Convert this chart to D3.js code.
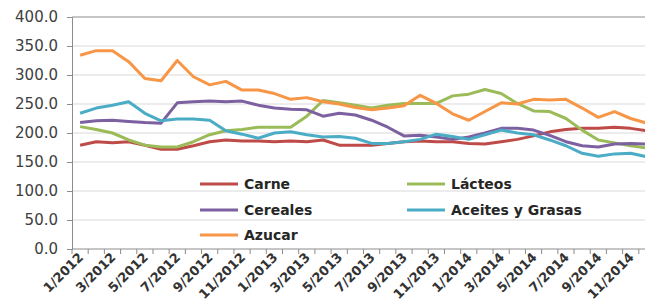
<!DOCTYPE html>
<html>
<head>
<meta charset="utf-8">
<script src="https://cdn.jsdelivr.net/npm/d3@7"></script>
<style>
  body { margin: 0; background: #fff; }
  svg { display: block; font-family: "DejaVu Sans", sans-serif; }
</style>
</head>
<body>
<svg id="chart"></svg>
<script>
// meses 1/2012 .. 12/2014
const meses = [];
for (const a of [2012, 2013, 2014]) for (let m = 1; m <= 12; m++) meses.push(m + "/" + a);

const yTicks = [0, 50, 100, 150, 200, 250, 300, 350, 400];

const carne = [179, 185, 183, 185, 179, 172, 172, 178, 185, 188, 186, 186,
  185, 186, 185, 188, 179, 179, 179, 182, 185, 186, 185, 185,
  182, 181, 185, 189, 195, 202, 206, 208, 208, 210, 208, 204];
const lacteos = [211, 206, 200, 188, 179, 176, 176, 185, 197, 204, 206, 210,
  210, 210, 229, 256, 252, 248, 243, 248, 251, 251, 251, 264,
  267, 275, 268, 251, 238, 237, 225, 205, 188, 183, 178, 174];
const cereales = [218, 221, 222, 220, 218, 217, 252, 254, 255, 254, 255, 248,
  243, 241, 240, 229, 234, 231, 222, 210, 195, 196, 193, 189,
  193, 200, 208, 208, 205, 196, 185, 178, 176, 181, 182, 181];
const aceites = [234, 243, 248, 254, 234, 221, 224, 224, 222, 204, 198, 191,
  200, 202, 197, 193, 194, 191, 182, 182, 185, 189, 198, 194,
  189, 197, 205, 200, 197, 188, 178, 165, 160, 164, 165, 159];
const azucar = [334, 342, 342, 323, 294, 290, 325, 297, 283, 289, 274, 274,
  268, 258, 261, 254, 250, 244, 240, 243, 247, 265, 251, 233,
  222, 237, 252, 250, 258, 257, 258, 243, 227, 237, 225, 217];

const series = [
  { nombre: "Carne", valores: carne, color: "#be4b48" },
  { nombre: "Lácteos", valores: lacteos, color: "#9bbb59" },
  { nombre: "Cereales", valores: cereales, color: "#7d60a0" },
  { nombre: "Aceites y Grasas", valores: aceites, color: "#4bacc6" },
  { nombre: "Azucar", valores: azucar, color: "#f79646" }
];

const width = 645, height = 300;
const margin = { top: 17, left: 72, bottom: 51 };
// the plot runs past the right edge of the picture (last month is cut)
const plotRight = 655;

const svg = d3.select("#chart").attr("width", width).attr("height", height);

const x = d3.scaleBand().domain(meses).range([margin.left, plotRight]);
const y = d3.scaleLinear().domain([0, 400]).range([height - margin.bottom, margin.top]);

// grid
svg.append("g")
  .selectAll("line")
  .data(yTicks.filter((d) => d > 0))
  .join("line")
  .attr("x1", margin.left).attr("x2", width)
  .attr("y1", (d) => y(d)).attr("y2", (d) => y(d))
  .attr("stroke", (d) => (d === 400 ? "#8c8c8c" : "#d9d9d9"))
  .attr("stroke-width", 1);

// eje y
const gy = svg.append("g")
  .attr("transform", `translate(${margin.left},0)`)
  .call(d3.axisLeft(y).tickValues(yTicks).tickFormat(d3.format(".1f")).tickSize(5).tickPadding(9));
gy.select(".domain").attr("stroke", "#8c8c8c");
gy.selectAll(".tick line").attr("stroke", "#8c8c8c");
gy.selectAll("text").attr("font-size", 15).attr("fill", "#404040")
  .attr("font-family", "DejaVu Sans, sans-serif");

// eje x
const gx = svg.append("g")
  .attr("transform", `translate(0,${y(0)})`);
gx.append("line")
  .attr("x1", margin.left).attr("x2", width)
  .attr("stroke", "#8c8c8c");
gx.selectAll("line.tk")
  .data(meses)
  .join("line")
  .attr("class", "tk")
  .attr("x1", (d) => x(d)).attr("x2", (d) => x(d))
  .attr("y1", 0).attr("y2", 5)
  .attr("stroke", "#8c8c8c");
gx.selectAll("text")
  .data(meses.filter((d, i) => i % 2 === 0))
  .join("text")
  .attr("transform", (d) => `translate(${x(d) + x.bandwidth() / 2 + 4},${9}) rotate(-45)`)
  .attr("text-anchor", "end")
  .attr("font-size", 13)
  .attr("font-weight", "bold")
  .attr("fill", "#333")
  .text((d) => d);

// lineas
const line = d3.line()
  .x((d, i) => x(meses[i]) + x.bandwidth() / 2)
  .y((d) => y(d));

svg.append("g")
  .selectAll("path")
  .data(series)
  .join("path")
  .attr("d", (d) => line(d.valores))
  .attr("fill", "none")
  .attr("stroke", (d) => d.color)
  .attr("stroke-width", 3)
  .attr("stroke-linejoin", "round");

// leyenda
const posLeyenda = [
  { x: 200, y: 184 }, { x: 407, y: 184 },
  { x: 200, y: 210 }, { x: 407, y: 210 },
  { x: 200, y: 235 }
];
const leg = svg.append("g")
  .selectAll("g")
  .data(series)
  .join("g")
  .attr("transform", (d, i) => `translate(${posLeyenda[i].x},${posLeyenda[i].y})`);
leg.append("line")
  .attr("x1", 0).attr("x2", 38)
  .attr("stroke", (d) => d.color)
  .attr("stroke-width", 3);
leg.append("text")
  .attr("x", 44)
  .attr("dy", "0.35em")
  .attr("font-size", 14)
  .attr("font-weight", "bold")
  .attr("fill", "#262626")
  .text((d) => d.nombre);
</script>
</body>
</html>
